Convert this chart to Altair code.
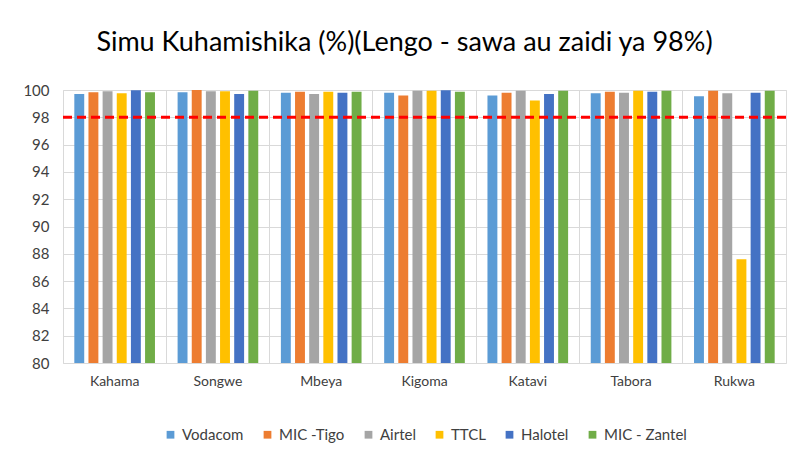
import altair as alt
import pandas as pd

regions = ["Kahama", "Songwe", "Mbeya", "Kigoma", "Katavi", "Tabora", "Rukwa"]
operators = ["Vodacom", "MIC -Tigo", "Airtel", "TTCL", "Halotel", "MIC - Zantel"]
colors = ["#5B9BD5", "#ED7D31", "#A5A5A5", "#FFC000", "#4472C4", "#70AD47"]

vodacom = [99.70, 99.83, 99.80, 99.80, 99.60, 99.76, 99.55]
tigo    = [99.83, 100.0, 99.88, 99.60, 99.80, 99.88, 99.95]
airtel  = [99.90, 99.90, 99.70, 99.95, 99.95, 99.80, 99.76]
ttcl    = [99.76, 99.90, 99.88, 99.95, 99.23, 99.95, 87.6]
halotel = [99.98, 99.70, 99.80, 99.98, 99.70, 99.88, 99.80]
zantel  = [99.83, 99.95, 99.88, 99.88, 99.95, 99.95, 99.95]
target = [98]
y_ticks = [80, 82, 84, 86, 88, 90, 92, 94, 96, 98, 100]

series = [vodacom, tigo, airtel, ttcl, halotel, zantel]
rows = []
for op, vals in zip(operators, series):
    for r, v in zip(regions, vals):
        rows.append({"Mkoa": r, "Mtoa huduma": op, "Asilimia": v})
df = pd.DataFrame(rows)

FONT = "Lato"

y_scale = alt.Scale(domain=[80, 100], zero=False, nice=False)
y_axis = alt.Axis(values=y_ticks, grid=True, gridColor="#d9d9d9",
                  labelOverlap=False, tickCount=11,
                  domain=False, ticks=False, labelPadding=14, labelFontSize=15,
                  labelColor="#404040", labelFont=FONT)

bars = alt.Chart(df).mark_bar(clip=True).encode(
    x=alt.X("Mkoa:N", sort=regions, title=None,
            scale=alt.Scale(paddingInner=0, paddingOuter=0),
            axis=alt.Axis(labelAngle=0, grid=True, bandPosition=0, gridColor="#d9d9d9",
                          domain=False, ticks=False, labelPadding=11, labelFontSize=14,
                          labelColor="#404040", labelFont=FONT)),
    xOffset=alt.XOffset("Mtoa huduma:N", sort=operators,
                        scale=alt.Scale(paddingInner=0.3, paddingOuter=0.8)),
    y=alt.Y("Asilimia:Q", title=None, scale=y_scale, axis=y_axis),
    color=alt.Color("Mtoa huduma:N", sort=operators,
                    scale=alt.Scale(domain=operators, range=colors),
                    legend=alt.Legend(title=None, orient="none", direction="horizontal",
                                      legendX=100, legendY=337, symbolType="square",
                                      symbolSize=60, labelFontSize=15, labelFont=FONT,
                                      labelColor="#404040", columnPadding=16,
                                      symbolStrokeWidth=0)),
)

rule = alt.Chart(pd.DataFrame({"Asilimia": target})).mark_rule(
    color="#FF0000", strokeWidth=3, strokeDash=[9, 5]
).encode(y=alt.Y("Asilimia:Q", title=None, scale=y_scale, axis=y_axis))

chart = alt.layer(bars, rule).properties(
    width=723, height=273,
    title=alt.Title("Simu Kuhamishika (%)(Lengo - sawa au zaidi ya 98%)",
                    fontSize=27, font=FONT, fontWeight="normal", color="#000000",
                    anchor="middle", dx=-20, offset=26),
    autosize=alt.AutoSizeParams(type="none"),
    padding={"left": 55, "top": 82, "right": 6, "bottom": 85},
).configure_view(fill="#f4f4f4", stroke="#d9d9d9").configure(background="white")

chart.save("out.html", embed_options={"renderer": "svg", "actions": False})
